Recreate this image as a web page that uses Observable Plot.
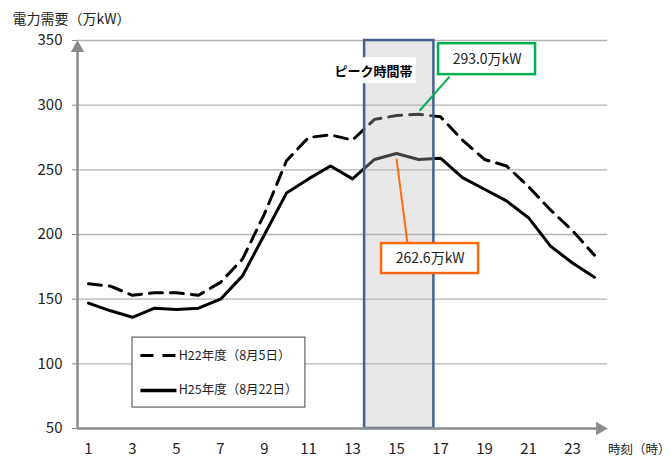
<!DOCTYPE html>
<html>
<head>
<meta charset="utf-8">
<script src="https://cdn.jsdelivr.net/npm/d3@7"></script>
<script src="https://cdn.jsdelivr.net/npm/@observablehq/plot@0.6"></script>
<style>
  html, body { margin: 0; padding: 0; background: #fff; }
  #chart svg { display: block; }
</style>
</head>
<body>
<div id="chart"></div>
<script>
const hours = [1,2,3,4,5,6,7,8,9,10,11,12,13,14,15,16,17,18,19,20,21,22,23,24];
const h22 = [162,160,153,155,155,153,163,181,216,257,275,277,273,289,292,293,291,273,258,253,237,219,203,184];
const h25 = [147,141,136,143,142,143,150,168,200,232,243,253,243,258,262.6,258,259,244,235,226,213,191,178,167];
const seriesNames = ["H22年度（8月5日）", "H25年度（8月22日）"];
const yTicks = [50,100,150,200,250,300,350];
const xTicks = [1,3,5,7,9,11,13,15,17,19,21,23];
const peakLabel = "ピーク時間帯";
const calloutH22 = "293.0万kW";
const calloutH25 = "262.6万kW";
const yTitle = "電力需要（万kW）";
const xTitle = "時刻（時）";

const rows22 = hours.map((h, i) => ({hour: h, value: h22[i]}));
const rows25 = hours.map((h, i) => ({hour: h, value: h25[i]}));
const one = [{}];
const font = "'Noto Sans CJK JP', 'Noto Sans', sans-serif";

const chart = Plot.plot({
  width: 672,
  height: 459,
  marginLeft: 77,
  marginRight: 67,
  marginTop: 40,
  marginBottom: 31,
  style: {fontFamily: font, fontSize: "15px", color: "#222", background: "#fff"},
  x: {domain: [0.5, 24.5], label: null},
  y: {domain: [50, 350], label: null},
  marks: [
    Plot.ruleY(yTicks.filter(v => v > 50), {x1: 0.5, x2: 24.6, stroke: "#b3b3b3", strokeWidth: 1.3}),
    Plot.line(rows22, {x: "hour", y: "value", stroke: "#000", strokeWidth: 3, strokeDasharray: "13,8"}),
    Plot.line(rows25, {x: "hour", y: "value", stroke: "#000", strokeWidth: 3}),
    Plot.rect(one, {x1: 13.55, x2: 16.7, y1: 50, y2: 350, fill: "rgb(188,188,188)", fillOpacity: 0.34, stroke: "#44618e", strokeWidth: 2.5}),
    Plot.rect(one, {x1: 12.0, x2: 15.9, y1: 316.6, y2: 336.7, fill: "#fff"}),
    Plot.text([peakLabel], {x: 13.95, y: 326, text: d => d, fontWeight: "bold", fontSize: 13, fill: "#000"}),
    Plot.axisY({ticks: yTicks, label: null, tickSize: 5, tickPadding: 10, stroke: "#8c8c8c", fill: "#222", fontSize: 15}),
    Plot.axisX({ticks: xTicks, label: null, tickSize: 0, tickPadding: 15, fill: "#222", fontSize: 15}),
    Plot.ruleX([0.5], {y1: 50, y2: 344, stroke: "#8c8c8c", strokeWidth: 2.5}),
    Plot.ruleY([50], {x1: 0.5, x2: 24.25, stroke: "#8c8c8c", strokeWidth: 2.5}),
    Plot.dot(one, {x: 0.5, y: 344.2, symbol: "triangle", r: 5, fill: "#8c8c8c", stroke: "none"}),
    Plot.dot(one, {x: 24.25, y: 50, symbol: "triangle", r: 5, rotate: 90, fill: "#8c8c8c", stroke: "none"}),
    Plot.link(one, {x1: 17.41, y1: 322, x2: 16.05, y2: 295.7, stroke: "#00b050", strokeWidth: 2}),
    Plot.rect(one, {x1: 16.91, x2: 21.32, y1: 323.6, y2: 347.5, fill: "#fff", stroke: "#00b050", strokeWidth: 2.5}),
    Plot.text([calloutH22], {x: 19.12, y: 335.5, text: d => d, fontSize: 14, fill: "#222"}),
    Plot.link(one, {x1: 15.0, y1: 258.7, x2: 15.5, y2: 193, stroke: "#ff6a10", strokeWidth: 2}),
    Plot.rect(one, {x1: 14.32, x2: 18.73, y1: 169.8, y2: 193.0, fill: "#fff", stroke: "#ff6a10", strokeWidth: 2.5}),
    Plot.text([calloutH25], {x: 16.53, y: 181.4, text: d => d, fontSize: 14, fill: "#222"}),
    Plot.rect(one, {x1: 3.0, x2: 10.86, y1: 66.2, y2: 120.3, fill: "#fff", stroke: "#444", strokeWidth: 1}),
    Plot.link(one, {x1: 3.36, x2: 5.0, y1: 106.4, y2: 106.4, stroke: "#000", strokeWidth: 3, strokeDasharray: "13,9"}),
    Plot.link(one, {x1: 3.36, x2: 5.0, y1: 79.4, y2: 79.4, stroke: "#000", strokeWidth: 3.5}),
    Plot.text([seriesNames[0]], {x: 5.1, y: 106.4, text: d => d, textAnchor: "start", fontSize: 12.5, fill: "#222"}),
    Plot.text([seriesNames[1]], {x: 5.1, y: 79.4, text: d => d, textAnchor: "start", fontSize: 12.5, fill: "#222"}),
    Plot.text([yTitle], {frameAnchor: "top-left", dx: -65, dy: -21, text: d => d, textAnchor: "start", lineAnchor: "middle", fontSize: 14, fill: "#222"}),
    Plot.text([xTitle], {frameAnchor: "bottom-right", dx: 65, dy: 21, text: d => d, textAnchor: "end", lineAnchor: "middle", fontSize: 12.5, fill: "#222"})
  ]
});
document.getElementById("chart").appendChild(chart);
</script>
</body>
</html>
